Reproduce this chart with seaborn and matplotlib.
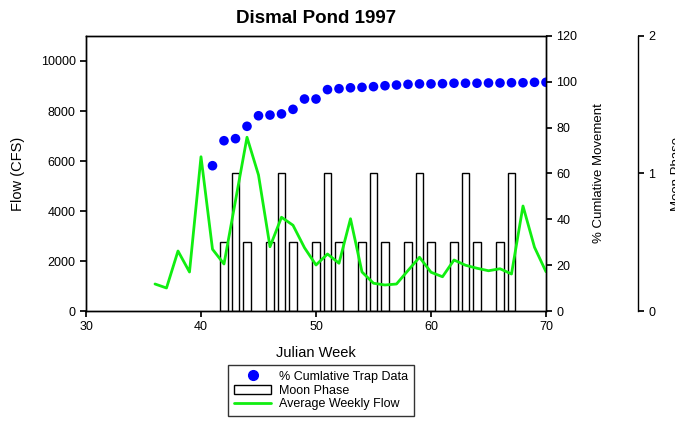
import numpy as np
import pandas as pd
import matplotlib
matplotlib.use("Agg")
import matplotlib.pyplot as plt
import seaborn as sns
from matplotlib.lines import Line2D
from matplotlib.patches import Patch

# average weekly flow (CFS)
flow_weeks = [36, 37, 38, 39, 40, 41, 42, 44, 45, 46, 47, 48, 49, 50, 51, 52, 53,
              54, 55, 56, 57, 58, 59, 60, 61, 62, 63, 64, 65, 66, 67, 68, 69, 70]
flow_cfs = [1080, 920, 2400, 1560, 6170, 2470, 1880, 6950, 5440, 2570, 3750, 3430,
            2530, 1840, 2280, 1910, 3690, 1560, 1110, 1040, 1080, 1620, 2150, 1550,
            1370, 2040, 1830, 1710, 1610, 1690, 1480, 4200, 2550, 1570]

# % cumulative trap data
cum_weeks = list(range(41, 71))
cum_pct = [63.4, 74.3, 75.2, 80.6, 85.2, 85.5, 86.0, 88.0, 92.5, 92.5, 96.6, 97.0,
           97.4, 97.6, 97.9, 98.3, 98.6, 98.9, 99.1, 99.1, 99.2, 99.4, 99.4, 99.4,
           99.5, 99.5, 99.6, 99.6, 99.8, 99.8]

# moon phase
moon_weeks = [42, 43, 44, 46, 47, 48, 50, 51, 52, 54, 55, 56, 58, 59, 60, 62, 63, 64, 66, 67]
moon_phase = [0.5, 1, 0.5, 0.5, 1, 0.5, 0.5, 1, 0.5, 0.5, 1, 0.5, 0.5, 1, 0.5,
              0.5, 1, 0.5, 0.5, 1]

flow = pd.DataFrame({"week": flow_weeks, "flow": flow_cfs})
cum = pd.DataFrame({"week": cum_weeks, "pct": cum_pct})

sns.set_theme(style="ticks")
plt.rcParams["font.family"] = ["Liberation Sans", "DejaVu Sans"]
plt.rcParams.update({
    "axes.edgecolor": "black", "axes.linewidth": 1.0,
    "xtick.major.size": 4, "ytick.major.size": 4,
    "xtick.color": "black", "ytick.color": "black",
    "text.color": "black", "axes.labelcolor": "black",
})

fig = plt.figure(figsize=(6.75, 4.23), dpi=100)
fig.patch.set_facecolor("white")
ax = fig.add_axes([86 / 675, 1 - 311 / 423, 460 / 675, 275 / 423])
par1 = ax.twinx()
par2 = ax.twinx()
par2.spines["right"].set_position(("axes", 1.2))
for sp in ["left", "top", "bottom"]:
    par2.spines[sp].set_visible(False)

# moon phase bars
par2.bar(moon_weeks, moon_phase, width=0.62, color="white", edgecolor="black",
         linewidth=1.0)
par2.set_ylim(0, 2)
par2.set_yticks([0, 1, 2])
par2.tick_params(axis="y", labelsize=9)
par2.set_ylabel("Moon Phase", fontsize=9.5, labelpad=11)

# cumulative %
sns.scatterplot(data=cum, x="week", y="pct", ax=par1, color="#0000ff", s=48,
                edgecolor="none", zorder=3)
par1.set_ylim(0, 120)
par1.set_yticks(range(0, 121, 20))
par1.tick_params(axis="y", labelsize=9)
par1.set_ylabel("% Cumlative Movement", fontsize=9.5, labelpad=11)
par1.set_xlabel("")

# flow line on top
sns.lineplot(data=flow, x="week", y="flow", ax=ax, color="#11ee11", linewidth=2.0)
ax.set_zorder(par2.get_zorder() + 2)
par1.set_zorder(par2.get_zorder() + 1)
ax.patch.set_visible(False)
par1.patch.set_visible(False)

ax.set_xlim(30, 70)
ax.set_xticks(range(30, 71, 10))
ax.set_ylim(0, 11000)
ax.set_yticks(range(0, 10001, 2000))
ax.tick_params(axis="both", labelsize=9)
ax.set_xlabel("Julian Week", fontsize=10.5, labelpad=9)
ax.set_ylabel("Flow (CFS)", fontsize=10.5, labelpad=11)
ax.set_title("Dismal Pond 1997", fontsize=13.5, fontweight="bold", pad=9)

handles = [
    Line2D([], [], marker="o", color="#0000ff", linestyle="none", markersize=7),
    Patch(facecolor="white", edgecolor="black", linewidth=1.0),
    Line2D([], [], color="#11ee11", linewidth=2.0),
]
labels = ["% Cumlative Trap Data", "Moon Phase", "Average Weekly Flow"]
leg = fig.legend(handles, labels, loc="upper center", bbox_to_anchor=(321 / 675, 1 - 365 / 423),
                 fontsize=9, frameon=True, fancybox=False, edgecolor="black",
                 handlelength=3.0, handletextpad=0.6, borderpad=0.45, labelspacing=0.15,
                 borderaxespad=0)
leg.get_frame().set_linewidth(1.0)

fig.savefig("out.png", dpi=100, facecolor="white")
